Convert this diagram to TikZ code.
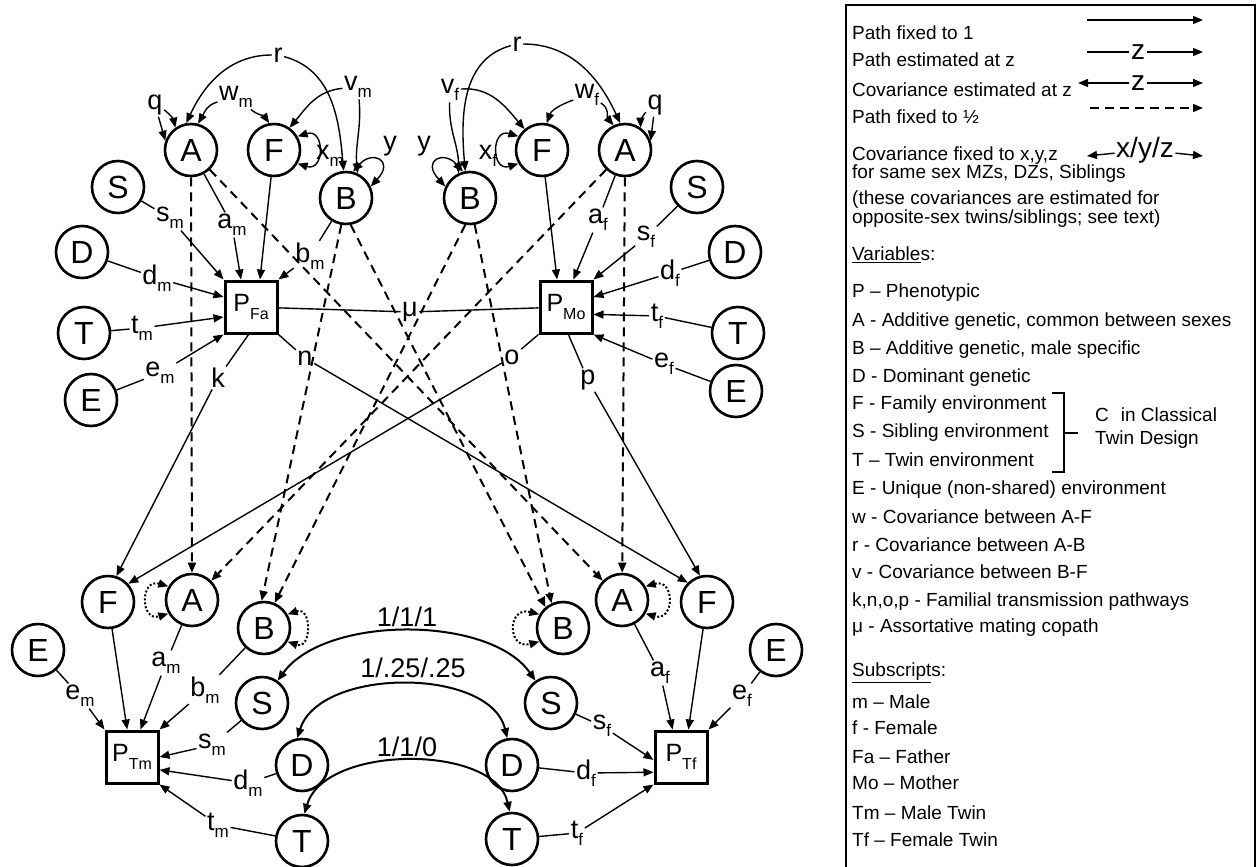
\documentclass[tikz,border=0pt]{standalone}
\usepackage{fontspec}
\setmainfont{Liberation Sans}
\usetikzlibrary{arrows.meta}
\newcommand{\sbx}[2]{#1\raisebox{-0.27em}{\fontsize{17}{17}\selectfont #2}}
\newcommand{\pheno}[1]{P\raisebox{-0.32em}{\fontsize{16}{16}\selectfont #1}}

\begin{document}
\begin{tikzpicture}[x=1pt, y=1pt,
  every node/.style={font=\fontsize{27}{27}\selectfont},
  var/.style={draw, circle, line width=2.6pt, minimum size=52pt, inner sep=0pt, font=\fontsize{32}{32}\selectfont},
  phen/.style={draw, rectangle, line width=3pt, minimum size=52pt, inner sep=0pt, font=\fontsize{25}{25}\selectfont},
  lab/.style={inner sep=1.5pt},
  legtxt/.style={anchor=west, inner sep=0pt, font=\fontsize{19}{19}\selectfont},
  lnk/.style={line width=1.4pt},
  est/.style={lnk, -{Triangle[length=10pt,width=8pt]}},
  cov/.style={lnk, {Triangle[length=10pt,width=8pt]}-{Triangle[length=10pt,width=8pt]}},
  half/.style={est, line width=2pt, dash pattern=on 9pt off 6pt},
  unitvar/.style={cov, line width=2pt, dotted}]
  \useasboundingbox (0,0) rectangle (1258,-867);

  \node[var] (AFa) at (191,-150) {A};
  \node[var] (FFa) at (274,-150) {F};
  \node[var] (BFa) at (346,-198) {B};
  \node[var] (SFa) at (118,-187) {S};
  \node[var] (DFa) at (82,-252) {D};
  \node[var] (TFa) at (84,-333) {T};
  \node[var] (EFa) at (91,-400) {E};
  \node[phen] (PFa) at (251,-307) {\pheno{Fa}};

  \node[var] (AMo) at (625,-150) {A};
  \node[var] (FMo) at (542,-150) {F};
  \node[var] (BMo) at (470,-198) {B};
  \node[var] (SMo) at (697,-187) {S};
  \node[var] (DMo) at (735,-252) {D};
  \node[var] (TMo) at (738,-333) {T};
  \node[var] (EMo) at (736,-391) {E};
  \node[phen] (PMo) at (566,-307) {\pheno{Mo}};

  \node[var] (FTm) at (108,-602) {F};
  \node[var] (ATm) at (192,-600) {A};
  \node[var] (BTm) at (264,-628) {B};
  \node[var] (ETm) at (38,-650) {E};
  \node[var] (STm) at (262,-703) {S};
  \node[var] (DTm) at (302,-765) {D};
  \node[var] (TTm) at (302,-841) {T};
  \node[phen] (PTm) at (132,-757) {\pheno{Tm}};

  \node[var] (FTf) at (707,-602) {F};
  \node[var] (ATf) at (622,-600) {A};
  \node[var] (BTf) at (563,-628) {B};
  \node[var] (ETf) at (776,-650) {E};
  \node[var] (STf) at (551,-703) {S};
  \node[var] (DTf) at (512,-765) {D};
  \node[var] (TTf) at (512,-839) {T};
  \node[phen] (PTf) at (681,-757) {\pheno{Tf}};

  \node[lab] (rFa) at (278,-55) {r};
  \node[lab] (wFa) at (236,-97) {\sbx{w}{m}};
  \node[lab] (vFa) at (358,-87) {\sbx{v}{m}};
  \node[lab] (qFa) at (155,-105) {q};
  \node[lab] (xFa) at (330,-156) {\sbx{x}{m}};
  \node[lab] (yFa) at (390,-146) {y};
  \node[lab] (smFa) at (170,-218) {\sbx{s}{m}};
  \node[lab] (amFa) at (232,-225) {\sbx{a}{m}};
  \node[lab] (bmFa) at (310,-256) {\sbx{b}{m}};
  \node[lab] (dmFa) at (157,-278) {\sbx{d}{m}};
  \node[lab] (tmFa) at (142,-328) {\sbx{t}{m}};
  \node[lab] (emFa) at (160,-373) {\sbx{e}{m}};
  \node[lab] (kFa) at (218,-378) {k};
  \node[lab] (nFa) at (305,-358) {n};
  \node[lab] (mu) at (410,-312) {μ};

  \node[lab] (rMo) at (517,-44) {r};
  \node[lab] (vMo) at (450,-90) {\sbx{v}{f}};
  \node[lab] (wMo) at (587,-95) {\sbx{w}{f}};
  \node[lab] (qMo) at (655,-105) {q};
  \node[lab] (xMo) at (488,-156) {\sbx{x}{f}};
  \node[lab] (yMo) at (424,-146) {y};
  \node[lab] (afMo) at (598,-220) {\sbx{a}{f}};
  \node[lab] (sfMo) at (646,-237) {\sbx{s}{f}};
  \node[lab] (dfMo) at (670,-273) {\sbx{d}{f}};
  \node[lab] (tfMo) at (657,-316) {\sbx{t}{f}};
  \node[lab] (efMo) at (664,-364) {\sbx{e}{f}};
  \node[lab] (oMo) at (512,-357) {o};
  \node[lab] (pMo) at (588,-380) {p};

  \node[lab] (emTm) at (80,-696) {\sbx{e}{m}};
  \node[lab] (amTm) at (166,-663) {\sbx{a}{m}};
  \node[lab] (bmTm) at (205,-690) {\sbx{b}{m}};
  \node[lab] (smTm) at (212,-745) {\sbx{s}{m}};
  \node[lab] (dmTm) at (248,-783) {\sbx{d}{m}};
  \node[lab] (tmTm) at (218,-825) {\sbx{t}{m}};
  \node[lab] (afTf) at (660,-673) {\sbx{a}{f}};
  \node[lab] (efTf) at (742,-696) {\sbx{e}{f}};
  \node[lab] (sfTf) at (602,-726) {\sbx{s}{f}};
  \node[lab] (dfTf) at (586,-773) {\sbx{d}{f}};
  \node[lab] (tfTf) at (577,-833) {\sbx{t}{f}};
  \node[lab] (cS) at (407,-617) {1/1/1};
  \node[lab] (cD) at (413,-668) {1/.25/.25};
  \node[lab] (cT) at (407,-747) {1/1/0};

  \draw[est] (rFa) to[out=180, in=65] (AFa.100);
  \draw[est] (rFa) to[out=-15, in=95] (BFa.95);
  \draw[est] (wFa) to[out=195, in=60] (AFa.75);
  \draw[est] (wFa) to[out=-40, in=125] (FFa.100);
  \draw[est] (vFa) to[out=185, in=50] (FFa.55);
  \draw[est] (vFa) to[out=-85, in=95] (BFa.65);
  \draw[est] (qFa) to[bend left=20] (AFa.125);
  \draw[est] (qFa) -- (AFa.160);
  \draw[cov] (FFa.30) .. controls (325,-128) and (325,-172) .. (FFa.-30);
  \draw[cov] (BFa.75) .. controls (372,-150) and (395,-160) .. (BFa.25);

  \draw[est] (rMo) to[out=195, in=95] (BMo.100);
  \draw[est] (rMo) to[out=0, in=115] (AMo.100);
  \draw[est] (wMo) to[out=200, in=70] (FMo.80);
  \draw[est] (wMo) to[out=-30, in=130] (AMo.115);
  \draw[est] (vMo) to[out=5, in=130] (FMo.130);
  \draw[est] (vMo) to[out=-92, in=90] (BMo.115);
  \draw[est] (qMo) to[bend right=20] (AMo.55);
  \draw[est] (qMo) -- (AMo.20);
  \draw[cov] (FMo.150) .. controls (491,-128) and (491,-172) .. (FMo.210);
  \draw[cov] (BMo.105) .. controls (444,-150) and (421,-160) .. (BMo.155);

  \draw[lnk] (SFa) -- (smFa);  \draw[est] (smFa) -- (PFa.north west);
  \draw[lnk] (AFa) -- (amFa);  \draw[est] (amFa) -- (PFa.110);
  \draw[est] (FFa) -- (PFa.72);
  \draw[lnk] (BFa) -- (bmFa);  \draw[est] (bmFa) -- (PFa.north east);
  \draw[lnk] (DFa) -- (dmFa);  \draw[est] (dmFa) -- (PFa.160);
  \draw[lnk] (TFa) -- (tmFa);  \draw[est] (tmFa) -- (PFa.200);
  \draw[lnk] (EFa) -- (emFa);  \draw[est] (emFa) -- (PFa.south west);

  \draw[lnk] (SMo) -- (sfMo);  \draw[est] (sfMo) -- (PMo.north east);
  \draw[lnk] (AMo) -- (afMo);  \draw[est] (afMo) -- (PMo.75);
  \draw[est] (FMo) -- (PMo.108);
  \draw[lnk] (DMo) -- (dfMo);  \draw[est] (dfMo) -- (PMo.20);
  \draw[lnk] (TMo) -- (tfMo);  \draw[est] (tfMo) -- (PMo.-15);
  \draw[lnk] (EMo) -- (efMo);  \draw[est] (efMo) -- (PMo.south east);

  \draw[lnk] (PFa) -- (mu);
  \draw[lnk] (mu) -- (PMo);

  \draw[lnk] (PFa.-95) -- (kFa);  \draw[est] (kFa) -- (FTm.72);
  \draw[lnk] (PFa.south east) -- (nFa);  \draw[est] (nFa) -- (FTf.135);
  \draw[lnk] (PMo.south west) -- (oMo);  \draw[est] (oMo) -- (FTm.42);
  \draw[lnk] (PMo.-85) -- (pMo);  \draw[est] (pMo) -- (FTf.105);

  \draw[half] (AFa) -- (ATm);
  \draw[half] (AFa) -- (ATf.135);
  \draw[half] (AMo) -- (ATf);
  \draw[half] (AMo) -- (ATm.45);
  \draw[half] (BFa.-100) -- (BTm.95);
  \draw[half] (BFa.-80) -- (BTf.130);
  \draw[half] (BMo.-100) -- (BTm.67);
  \draw[half] (BMo.-80) -- (BTf.115);

  \draw[unitvar] (ATm.150) .. controls (140,-578) and (140,-622) .. (ATm.210);
  \draw[unitvar] (BTm.30) .. controls (312,-606) and (312,-650) .. (BTm.-30);
  \draw[unitvar] (BTf.150) .. controls (507,-606) and (507,-650) .. (BTf.210);
  \draw[unitvar] (ATf.30) .. controls (675,-578) and (675,-622) .. (ATf.-30);

  \draw[est] (FTm) -- (PTm.100);
  \draw[lnk] (ATm) -- (amTm);  \draw[est] (amTm) -- (PTm.73);
  \draw[lnk] (BTm) -- (bmTm);  \draw[est] (bmTm) -- (PTm.north east);
  \draw[lnk] (STm) -- (smTm);  \draw[est] (smTm) -- (PTm.east);
  \draw[lnk] (DTm) -- (dmTm);  \draw[est] (dmTm) -- (PTm.-25);
  \draw[lnk] (TTm) -- (tmTm);  \draw[est] (tmTm) -- (PTm.south east);
  \draw[lnk] (ETm) -- (emTm);  \draw[est] (emTm) -- (PTm.north west);

  \draw[lnk] (ATf) -- (afTf);  \draw[est] (afTf) -- (PTf.107);
  \draw[est] (FTf) -- (PTf.75);
  \draw[lnk] (ETf) -- (efTf);  \draw[est] (efTf) -- (PTf.north east);
  \draw[lnk] (STf) -- (sfTf);  \draw[est] (sfTf) -- (PTf.186);
  \draw[lnk] (DTf) -- (dfTf);  \draw[est] (dfTf) -- (PTf.209);
  \draw[lnk] (TTf) -- (tfTf);  \draw[est] (tfTf) -- (PTf.south west);

  \draw[cov, line width=2pt] (STm.55) .. controls (325,-615) and (490,-615) .. (STf.125);
  \draw[cov, line width=2pt] (DTm.100) .. controls (320,-667) and (490,-667) .. (DTf.100);
  \draw[cov, line width=2pt] (TTm.85) .. controls (325,-744) and (495,-744) .. (TTf.95);

  \draw[line width=2pt] (846,-5) rectangle (1255,-880);
  \node[legtxt] (kP1) at (852,-33) {Path fixed to 1};
  \node[legtxt] (kPz) at (852,-60) {Path estimated at z};
  \node[legtxt] (kCz) at (852,-90) {Covariance estimated at z};
  \node[legtxt] (kPh) at (852,-117) {Path fixed to ½};
  \node[legtxt] (kCx) at (852,-156) {Covariance fixed to x,y,z};
  \node[legtxt] (kCx2) at (852,-174) {for same sex MZs, DZs, Siblings};
  \node[legtxt] (kN1) at (852,-200) {(these covariances are estimated for};
  \node[legtxt] (kN2) at (852,-219) {opposite-sex twins/siblings; see text)};
  \node[legtxt] (kVar) at (852,-255) {\underline{Variable}s:};
  \node[legtxt] (vP) at (852,-293) {P -- Phenotypic};
  \node[legtxt] (vA) at (852,-322) {A - Additive genetic, common between sexes};
  \node[legtxt] (vB) at (852,-350) {B -- Additive genetic, male specific};
  \node[legtxt] (vD) at (852,-378) {D - Dominant genetic};
  \node[legtxt] (vF) at (852,-405) {F - Family environment};
  \node[legtxt] (vS) at (852,-433) {S - Sibling environment};
  \node[legtxt] (vT) at (852,-460) {T -- Twin environment};
  \node[legtxt] (vE) at (852,-490) {E - Unique (non-shared) environment};
  \node[legtxt] (vw) at (852,-517) {w - Covariance between A-F};
  \node[legtxt] (vr) at (852,-545) {r - Covariance between A-B};
  \node[legtxt] (vv) at (852,-572) {v - Covariance between B-F};
  \node[legtxt] (vk) at (852,-602) {k,n,o,p - Familial transmission pathways};
  \node[legtxt] (vmu) at (852,-628) {μ - Assortative mating copath};
  \node[legtxt] (kSub) at (852,-673) {\underline{Subscript}s:};
  \node[legtxt] (sm) at (852,-702) {m -- Male};
  \node[legtxt] (sf) at (852,-728) {f - Female};
  \node[legtxt] (sFa) at (852,-757) {Fa -- Father};
  \node[legtxt] (sMo) at (852,-783) {Mo -- Mother};
  \node[legtxt] (sTm) at (852,-813) {Tm -- Male Twin};
  \node[legtxt] (sTf) at (852,-840) {Tf -- Female Twin};
  \node[legtxt] (kC1) at (1095,-415) {C\hspace{12pt}in Classical};
  \node[legtxt] (kC2) at (1095,-440) {Twin Design};

  \draw[line width=1.2pt] (1052,-393) -- (1064,-393) -- (1064,-472) -- (1052,-472);
  \draw[line width=1.2pt] (1064,-433) -- (1078,-433);

  \coordinate (k1s) at (1087,-20);  \coordinate (k1e) at (1203,-20);
  \draw[est] (k1s) -- (k1e);
  \node[lab, font=\fontsize{28}{28}\selectfont] (kz1) at (1138,-52) {z};
  \coordinate (k2s) at (1087,-52);  \coordinate (k2e) at (1203,-52);
  \draw[lnk] (k2s) -- (kz1);  \draw[est] (kz1) -- (k2e);
  \node[lab, font=\fontsize{28}{28}\selectfont] (kz2) at (1138,-83) {z};
  \coordinate (k3s) at (1078,-83);  \coordinate (k3e) at (1203,-83);
  \draw[est] (kz2) -- (k3s);  \draw[est] (kz2) -- (k3e);
  \coordinate (k4s) at (1090,-108);  \coordinate (k4e) at (1203,-108);
  \draw[half, line width=1.4pt] (k4s) -- (k4e);
  \node[lab, font=\fontsize{28}{28}\selectfont] (kxyz) at (1145,-150) {x/y/z};
  \coordinate (k5s) at (1087,-156);  \coordinate (k5e) at (1203,-156);
  \draw[est] (kxyz) -- (k5s);  \draw[est] (kxyz) -- (k5e);
\end{tikzpicture}
\end{document}
